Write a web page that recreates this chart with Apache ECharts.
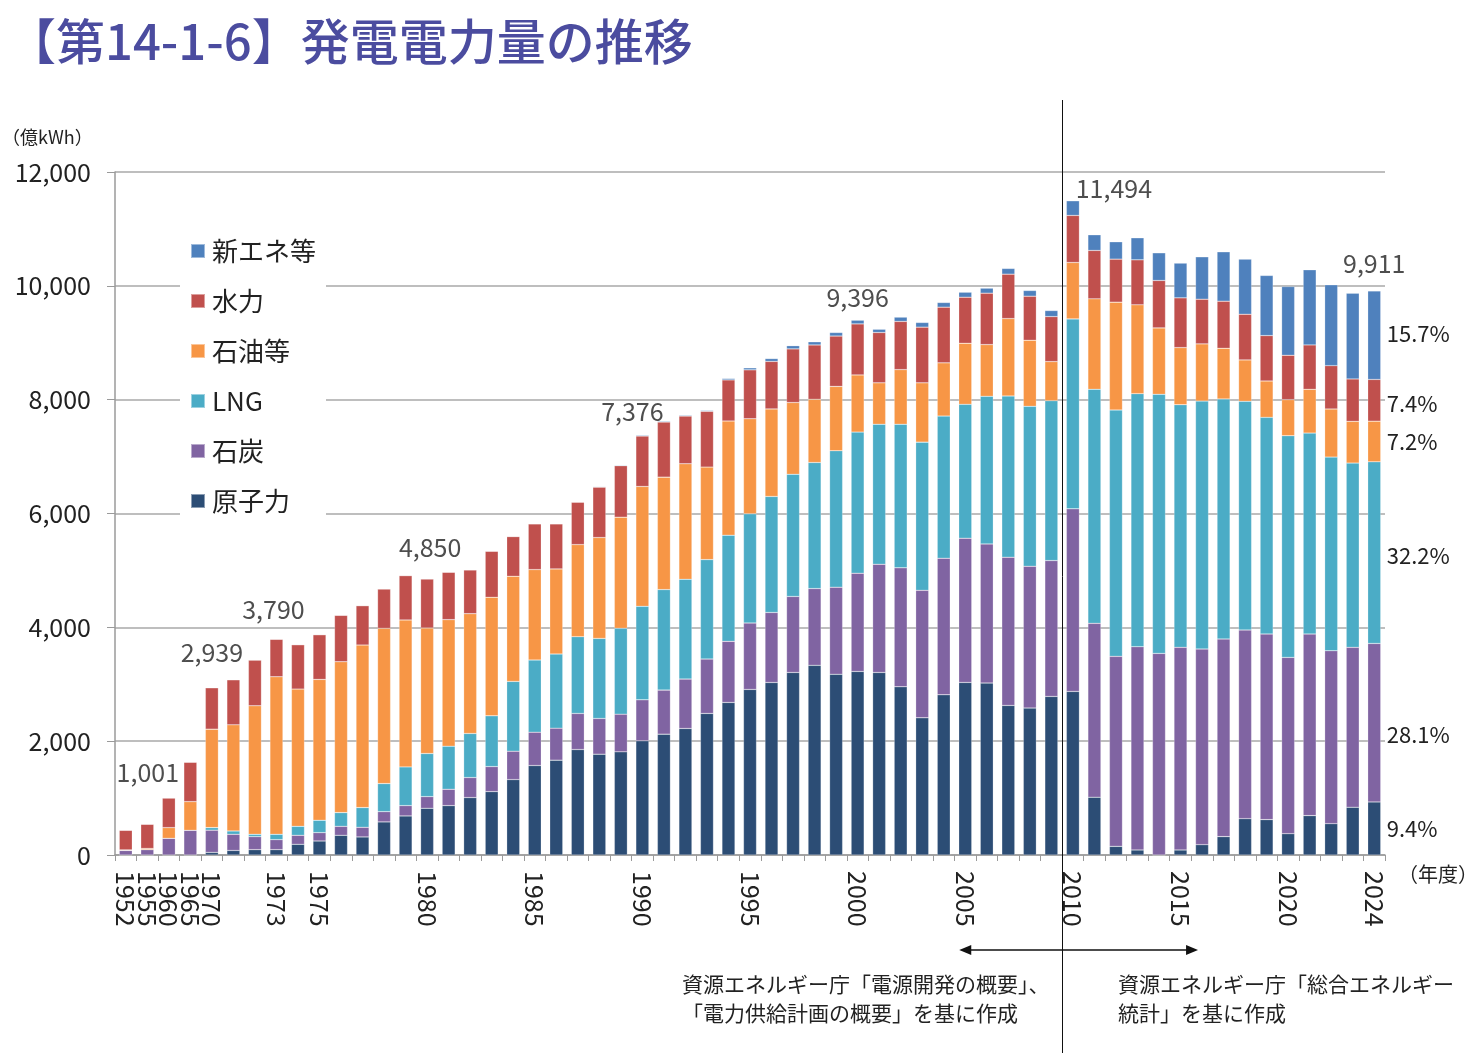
<!DOCTYPE html>
<html>
<head>
<meta charset="utf-8">
<title>発電電力量の推移</title>
<script src="https://cdn.jsdelivr.net/npm/echarts@6/dist/echarts.min.js"></script>
<style>
html, body { margin: 0; padding: 0; background: #fff; }
#chart { width: 1477px; height: 1057px; }
</style>
</head>
<body>
<div id="chart"></div>
<script>
// 年度（1952〜1965は5年おき、1970以降は毎年）
var years = ['1952', '1955', '1960', '1965',
    '1970', '1971', '1972', '1973', '1974', '1975', '1976', '1977', '1978', '1979',
    '1980', '1981', '1982', '1983', '1984', '1985', '1986', '1987', '1988', '1989',
    '1990', '1991', '1992', '1993', '1994', '1995', '1996', '1997', '1998', '1999',
    '2000', '2001', '2002', '2003', '2004', '2005', '2006', '2007', '2008', '2009',
    '2010', '2011', '2012', '2013', '2014', '2015', '2016', '2017', '2018', '2019',
    '2020', '2021', '2022', '2023', '2024'];
// 目盛りに表示する年度
var shownYears = ['1952', '1955', '1960', '1965', '1970', '1973', '1975', '1980', '1985',
    '1990', '1995', '2000', '2005', '2010', '2015', '2020', '2024'];
// 合計値を表示する年度
var totalYears = ['1960', '1970', '1973', '1980', '1990', '2000', '2010', '2024'];

// 電源別発電電力量（億kWh）
var nuclear = [0, 0, 0, 0,
    46, 80, 94, 94, 188, 246, 346, 317, 581, 686,
    821, 868, 1009, 1114, 1325, 1572, 1666, 1853, 1771, 1812,
    2006, 2123, 2223, 2487, 2680, 2909, 3031, 3207, 3332, 3175,
    3225, 3207, 2956, 2410, 2815, 3032, 3020, 2628, 2581, 2786,
    2874, 1015, 152, 88, 0, 88, 182, 323, 639, 622,
    375, 692, 551, 839, 932];
var coal = [80, 95, 293, 434,
    390, 284, 229, 176, 158, 147, 158, 170, 181, 182,
    205, 287, 352, 440, 499, 586, 563, 634, 628, 663,
    721, 774, 868, 956, 1074, 1167, 1230, 1336, 1349, 1531,
    1726, 1901, 2089, 2240, 2399, 2534, 2446, 2604, 2492, 2387,
    3208, 3055, 3338, 3572, 3542, 3560, 3437, 3472, 3314, 3261,
    3097, 3191, 3038, 2809, 2785];
var lng = [0, 0, 0, 0,
    45, 58, 41, 94, 158, 217, 241, 346, 493, 680,
    757, 757, 774, 892, 1226, 1267, 1302, 1349, 1407, 1507,
    1642, 1766, 1753, 1747, 1865, 1918, 2039, 2146, 2215, 2397,
    2479, 2460, 2523, 2604, 2498, 2352, 2593, 2833, 2810, 2809,
    3337, 4112, 4328, 4446, 4552, 4264, 4357, 4217, 4018, 3806,
    3895, 3530, 3402, 3238, 3191];
var oil = [10, 20, 188, 504,
    1730, 1865, 2258, 2768, 2411, 2475, 2651, 2856, 2727, 2581,
    2205, 2223, 2105, 2082, 1847, 1590, 1495, 1618, 1772, 1953,
    2106, 1976, 2030, 1625, 2006, 1671, 1537, 1261, 1111, 1130,
    1004, 728, 960, 1042, 935, 1073, 909, 1360, 1161, 687,
    991, 1589, 1895, 1560, 1167, 1003, 1004, 891, 727, 639,
    633, 769, 845, 733, 714];
var hydro = [344, 425, 520, 692,
    728, 792, 803, 658, 780, 786, 815, 692, 692, 780,
    862, 833, 769, 809, 698, 803, 792, 745, 885, 904,
    886, 968, 838, 980, 722, 859, 835, 942, 954, 885,
    897, 884, 847, 978, 978, 809, 903, 780, 774, 791,
    827, 851, 756, 791, 833, 874, 785, 827, 803, 798,
    780, 780, 762, 745, 733];
var newEnergy = [0, 0, 0, 0,
    0, 0, 0, 0, 0, 0, 0, 0, 0, 0,
    0, 0, 0, 0, 0, 0, 0, 0, 10, 12,
    15, 15, 15, 15, 25, 35, 50, 56, 56, 62,
    65, 57, 75, 82, 82, 88, 88, 100, 100, 106,
    257, 275, 305, 387, 486, 610, 745, 868, 968, 1056,
    1208, 1319, 1419, 1507, 1556];

var FONT = '"Noto Sans CJK JP", "Noto Sans", sans-serif';
var TEXT = '#222';
var last = years.length - 1;
var totals = years.map(function (y, i) {
    return nuclear[i] + coal[i] + lng[i] + oil[i] + hydro[i] + newEnergy[i];
});

// 合計ラベルのずらし
var totalOffsets = {
    '1960': [-21, -13], '1970': [0, -22], '1973': [-3, -17], '1980': [3, -18],
    '1990': [-10, -11], '2000': [0, -10], '2010': [41, 1], '2024': [0, -14]
};

function barSeries(name, arr, color, pctOffset) {
    return {
        name: name,
        type: 'bar',
        stack: 'total',
        barWidth: 13,
        itemStyle: { color: color, borderColor: 'rgba(255,255,255,0.45)', borderWidth: 0.5 },
        data: arr.map(function (v, i) {
            if (i !== last) return v;
            return {
                value: v,
                label: {
                    show: true, position: 'right', distance: 6, offset: pctOffset,
                    formatter: (v / totals[last] * 100).toFixed(1) + '%',
                    fontSize: 22, color: TEXT, fontFamily: FONT
                }
            };
        })
    };
}

var chart = echarts.init(document.getElementById('chart'));

var option = {
    backgroundColor: '#fff',
    animation: false,
    textStyle: { fontFamily: FONT },
    title: {
        text: '【第14-1-6】発電電力量の推移',
        left: 2, top: 12,
        textStyle: { fontSize: 49, fontWeight: 500, color: '#4B4C9F', fontFamily: FONT }
    },
    legend: {
        orient: 'vertical',
        left: 180, top: 228,
        padding: [10, 10, 10, 10],
        backgroundColor: '#fff',
        itemWidth: 14, itemHeight: 14, itemGap: 24,
        icon: 'rect',
        data: ['新エネ等', '水力', '石油等', 'LNG', '石炭', '原子力'],
        textStyle: { fontSize: 26, color: TEXT, fontFamily: FONT, padding: [0, 0, 0, 2] }
    },
    grid: { left: 115, right: 92, top: 172, bottom: 202, containLabel: false },
    xAxis: {
        type: 'category',
        data: years,
        axisLine: { lineStyle: { color: '#9a9a9a', width: 1.5 } },
        axisTick: { show: true, interval: 0, length: 6, lineStyle: { color: '#9a9a9a' } },
        axisLabel: {
            interval: 0, rotate: -90, margin: 16,
            fontSize: 25, color: TEXT, fontFamily: FONT,
            formatter: function (v) { return shownYears.indexOf(v) >= 0 ? v : ''; }
        }
    },
    yAxis: {
        type: 'value',
        min: 0, max: 12000, interval: 2000,
        axisLine: { show: true, lineStyle: { color: '#9a9a9a', width: 1.5 } },
        axisTick: { show: true, length: 8, lineStyle: { color: '#9a9a9a' } },
        splitLine: { lineStyle: { color: '#a8a8a8', width: 1.5 } },
        axisLabel: {
            margin: 24, fontSize: 25, color: TEXT, fontFamily: FONT,
            formatter: function (v) { return v.toLocaleString('en-US'); }
        }
    },
    series: [
        barSeries('原子力', nuclear, '#2C4D75', [0, 0]),
        barSeries('石炭', coal, '#8064A2', [0, 12]),
        barSeries('LNG', lng, '#4BACC6', [0, 3]),
        barSeries('石油等', oil, '#F79646', [0, 0]),
        barSeries('水力', hydro, '#C0504D', [0, 3]),
        barSeries('新エネ等', newEnergy, '#4F81BD', [0, -2]),
        {
            type: 'scatter',
            symbolSize: 1,
            silent: true,
            z: 5,
            itemStyle: { color: 'rgba(0,0,0,0)' },
            label: {
                show: true, position: 'top', distance: 0,
                fontSize: 25, color: TEXT, fontFamily: FONT,
                formatter: function (p) { return p.value[1].toLocaleString('en-US'); }
            },
            data: totalYears.map(function (y) {
                return { value: [y, totals[years.indexOf(y)]], label: { offset: totalOffsets[y] } };
            })
        }
    ]
};
chart.setOption(option);

// 出典の区切り線と矢印
var px = function (y) { return chart.convertToPixel({ xAxisIndex: 0 }, y); };
var divX = Math.round((px('2009') + px('2010')) / 2) + 0.5;
var arL = px('2005') - 6;
var arR = px('2016') - 4;
var arY = 950;

chart.setOption({
    graphic: [
        { type: 'line', shape: { x1: divX, y1: 100, x2: divX, y2: 1053 }, style: { stroke: '#111', lineWidth: 1 }, z: 10 },
        { type: 'line', shape: { x1: arL + 8, y1: arY, x2: arR - 8, y2: arY }, style: { stroke: '#111', lineWidth: 1.5 } },
        { type: 'polygon', shape: { points: [[arL, arY], [arL + 12, arY - 5], [arL + 12, arY + 5]] }, style: { fill: '#111' } },
        { type: 'polygon', shape: { points: [[arR, arY], [arR - 12, arY - 5], [arR - 12, arY + 5]] }, style: { fill: '#111' } },
        { type: 'text', left: 2, top: 128, style: { text: '（億kWh）', fontSize: 18, fill: TEXT, fontFamily: FONT } },
        { type: 'text', left: 1398, top: 864, style: { text: '（年度）', fontSize: 20, fill: TEXT, fontFamily: FONT } },
        {
            type: 'text', left: 682, top: 970,
            style: { text: '資源エネルギー庁「電源開発の概要」、\n「電力供給計画の概要」を基に作成', fontSize: 21, lineHeight: 29, fill: TEXT, fontFamily: FONT }
        },
        {
            type: 'text', left: 1118, top: 970,
            style: { text: '資源エネルギー庁「総合エネルギー\n統計」を基に作成', fontSize: 21, lineHeight: 29, fill: TEXT, fontFamily: FONT }
        }
    ]
});
</script>
</body>
</html>
